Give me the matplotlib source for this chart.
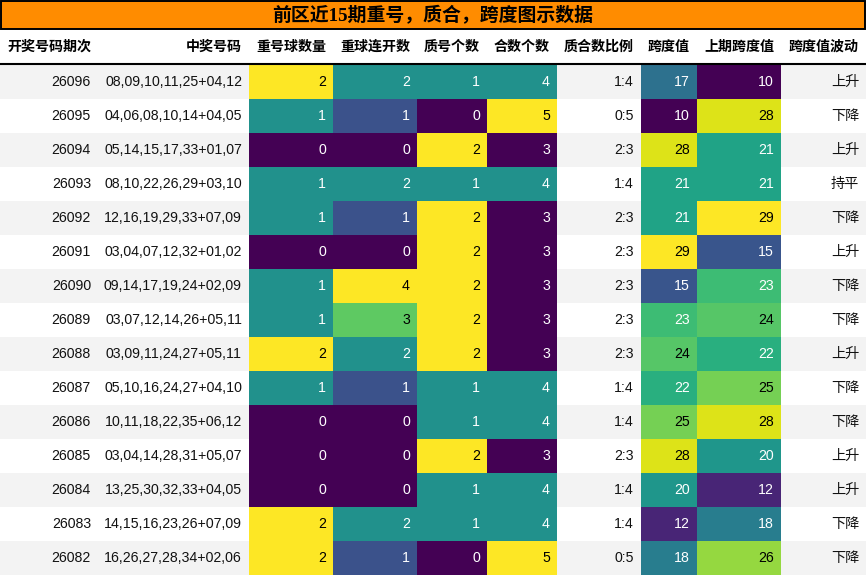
import matplotlib
matplotlib.use("Agg")
import matplotlib.pyplot as plt
from matplotlib.patches import Rectangle
from matplotlib import colors as mcolors
import numpy as np

# ---------------- data ----------------
title = "前区近15期重号，质合，跨度图示数据"
headers = ["开奖号码期次", "中奖号码", "重号球数量", "重球连开数", "质号个数",
           "合数个数", "质合数比例", "跨度值", "上期跨度值", "跨度值波动"]
periods = [26096, 26095, 26094, 26093, 26092, 26091, 26090, 26089, 26088,
           26087, 26086, 26085, 26084, 26083, 26082]
numbers = ["08,09,10,11,25+04,12", "04,06,08,10,14+04,05", "05,14,15,17,33+01,07",
           "08,10,22,26,29+03,10", "12,16,19,29,33+07,09", "03,04,07,12,32+01,02",
           "09,14,17,19,24+02,09", "03,07,12,14,26+05,11", "03,09,11,24,27+05,11",
           "05,10,16,24,27+04,10", "10,11,18,22,35+06,12", "03,04,14,28,31+05,07",
           "13,25,30,32,33+04,05", "14,15,16,23,26+07,09", "16,26,27,28,34+02,06"]
repeat_cnt = [2, 1, 0, 1, 1, 0, 1, 1, 2, 1, 0, 0, 0, 2, 2]
consec_cnt = [2, 1, 0, 2, 1, 0, 4, 3, 2, 1, 0, 0, 0, 2, 1]
prime_cnt = [1, 0, 2, 1, 2, 2, 2, 2, 2, 1, 1, 2, 1, 1, 0]
composite_cnt = [4, 5, 3, 4, 3, 3, 3, 3, 3, 4, 4, 3, 4, 4, 5]
ratio = ["1:4", "0:5", "2:3", "1:4", "2:3", "2:3", "2:3", "2:3", "2:3",
         "1:4", "1:4", "2:3", "1:4", "1:4", "0:5"]
span = [17, 10, 28, 21, 21, 29, 15, 23, 24, 22, 25, 28, 20, 12, 18]
prev_span = [10, 28, 21, 21, 29, 15, 23, 24, 22, 25, 28, 20, 12, 18, 26]
trend = ["上升", "下降", "上升", "持平", "下降", "上升", "下降", "下降", "上升",
         "下降", "下降", "上升", "上升", "下降", "下降"]

columns = [periods, numbers, repeat_cnt, consec_cnt, prime_cnt, composite_cnt,
           ratio, span, prev_span, trend]
heat_cols = {2, 3, 4, 5, 7, 8}

# ---------------- layout / style ----------------
W, H = 866, 576
col_w = [98, 151, 84, 84, 70, 70, 84, 56, 84, 85]
title_h = 28
header_top, header_bot = 29, 64
row_top, row_h = 65, 34
pad = 7
stripe = "#f3f3f3"
fam = ["Liberation Sans", "Noto Sans CJK SC"]
cmap = plt.get_cmap("viridis")

fig = plt.figure(figsize=(W / 100, H / 100), dpi=100)
ax = fig.add_axes([0, 0, 1, 1])
ax.set_xlim(0, W)
ax.set_ylim(H, 0)
ax.axis("off")

# title
ax.add_patch(Rectangle((0.7, 0.7), W - 2.2, title_h, facecolor="#FF8C00",
                       edgecolor="black", lw=1.4))
ax.text(W / 2, title_h / 2 + 2, title, ha="center", va="center", fontsize=13.6,
        fontweight="bold", family=["Liberation Serif", "Noto Sans CJK SC"])

x_edges = np.concatenate([[0], np.cumsum(col_w)])

# header
for j, h in enumerate(headers):
    ax.text(x_edges[j + 1] - pad, (header_top + header_bot) / 2 + 0.5, h, ha="right",
            va="center", fontsize=10.1, fontweight="bold", family=fam)
ax.plot([0, W], [header_bot, header_bot], color="black", lw=1.5)


def text_color(rgba):
    def lin(c):
        return c / 12.92 if c <= 0.04045 else ((c + 0.055) / 1.055) ** 2.4
    r, g, b = (lin(c) for c in rgba[:3])
    lum = 0.2126 * r + 0.7152 * g + 0.0722 * b
    return "white" if lum < 0.408 else "black"


for j, col in enumerate(columns):
    if j in heat_cols:
        vals = np.array(col, dtype=float)
        norm = mcolors.Normalize(vmin=vals.min(), vmax=vals.max())
    for i, v in enumerate(col):
        y0 = row_top + i * row_h
        if j in heat_cols:
            fc = cmap(norm(v))
            tc = text_color(fc)
        else:
            fc = stripe if i % 2 == 0 else "white"
            tc = "#111111"
        ax.add_patch(Rectangle((x_edges[j], y0), col_w[j], row_h, facecolor=fc,
                               edgecolor="none", lw=0))
        ax.text(x_edges[j + 1] - pad, y0 + row_h / 2, str(v), ha="right",
                va="center", fontsize=10.2, color=tc, family=fam)

fig.savefig("out.png", dpi=100)
